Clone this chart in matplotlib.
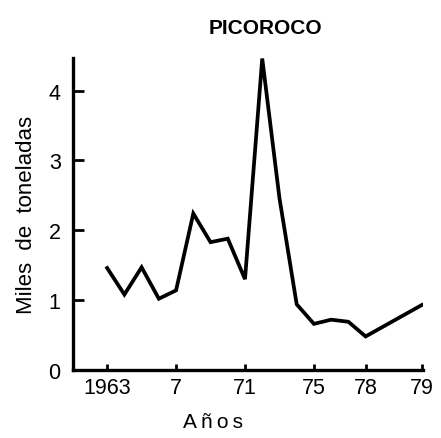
import matplotlib.pyplot as plt
import numpy as np

plt.rcParams['font.family'] = ['Liberation Sans', 'DejaVu Sans']

# capturas de picoroco (miles de toneladas)
years = [1963, 1964, 1965, 1966, 1967, 1968, 1969, 1970, 1971,
         1972, 1973, 1974, 1975, 1976, 1977, 1978, 1979]
catch = [1.46, 1.08, 1.47, 1.02, 1.14, 2.24, 1.83, 1.88, 1.30,
         4.46, 2.46, 0.94, 0.66, 0.72, 0.69, 0.48, 0.93]

tick_years = [1963, 1967, 1971, 1975, 1978, 1979]
tick_labels = ['1963', '7', '71', '75', '78', '79']

# the last year is drawn stretched on the original
def fwd(x):
    x = np.asarray(x, dtype=float)
    return np.where(x <= 1978, x, 1978 + (x - 1978) * 3.26)

def inv(x):
    x = np.asarray(x, dtype=float)
    return np.where(x <= 1978, x, 1978 + (x - 1978) / 3.26)

fig = plt.figure(figsize=(4.41, 4.39), dpi=100)
ax = fig.add_axes([0.166, 0.155, 0.793, 0.711])

ax.plot(years, catch, color='black', lw=2.7, solid_joinstyle='miter')

ax.set_xscale('function', functions=(fwd, inv))
ax.set_xlim(1961.03, 1979.02)
ax.set_ylim(0, 4.47)

ax.set_xticks(tick_years)
ax.set_xticklabels(tick_labels)
ax.set_yticks([0, 1, 2, 3, 4])
ax.minorticks_off()

for s in ['top', 'right']:
    ax.spines[s].set_visible(False)
for s in ['left', 'bottom']:
    ax.spines[s].set_linewidth(2.4)

ax.tick_params(axis='y', direction='in', length=8, width=2, labelsize=15.5, pad=9)
ax.tick_params(axis='x', direction='in', length=4, width=2, labelsize=15.5, pad=5)

ax.set_title('PICOROCO', fontsize=15, fontweight='bold', pad=18, x=0.55)
ax.set_ylabel('Miles  de  toneladas', fontsize=16, labelpad=8)
ax.set_xlabel('A\u2009ñ\u2009o\u2009s', fontsize=15, labelpad=10, x=0.40)

plt.savefig('out.png', dpi=100)
